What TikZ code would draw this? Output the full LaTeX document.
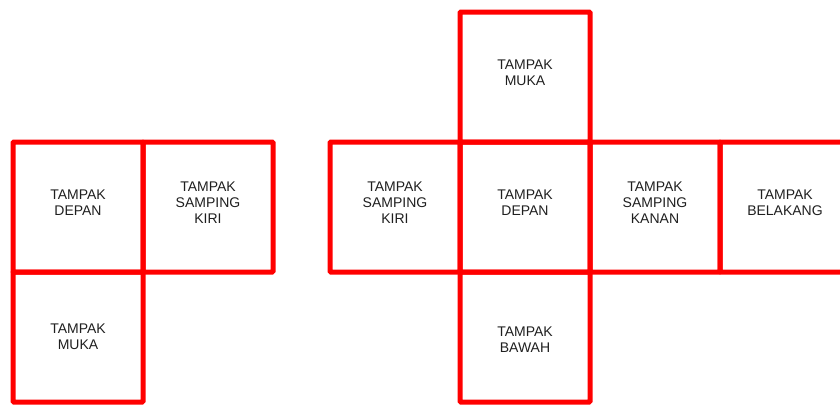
\documentclass[tikz,border=0pt]{standalone}
\usepackage{fontspec}
\setmainfont{Liberation Sans}
\usetikzlibrary{positioning}
\definecolor{netred}{RGB}{255,0,0}
\tikzset{
  face/.style={draw=netred, line width=5pt, minimum size=130pt, inner sep=0pt, outer sep=0pt, rounded corners=1pt},
  facetext/.style={align=center, font=\fontsize{14}{16}\selectfont, text=black!88, inner sep=0pt, yshift=4.5pt}
}

\begin{document}
\begin{tikzpicture}[x=1pt, y=-1pt, node distance=0pt]
  \useasboundingbox (0,0) rectangle (840,405);

  % left net
  \node[face] (ldepan) at (78,207) {};
  \node[face, right=of ldepan] (lkiri) {};
  \node[face, below=of ldepan] (lmuka) {};

  % right net
  \node[face] (rdepan) at (525,207) {};
  \node[face, above=of rdepan] (rmuka) {};
  \node[face, below=of rdepan] (rbawah) {};
  \node[face, left=of rdepan] (rkiri) {};
  \node[face, right=of rdepan] (rkanan) {};
  \node[face, right=of rkanan] (rbelakang) {};

  % labels
  \node[facetext] (ldepantxt) at (ldepan) {TAMPAK\\DEPAN};
  \node[facetext] (lkiritxt) at (lkiri) {TAMPAK\\SAMPING\\KIRI};
  \node[facetext, yshift=-4.5pt] (lmukatxt) at (lmuka) {TAMPAK\\MUKA};
  \node[facetext] (rmukatxt) at (rmuka) {TAMPAK\\MUKA};
  \node[facetext] (rkiritxt) at (rkiri) {TAMPAK\\SAMPING\\KIRI};
  \node[facetext] (rdepantxt) at (rdepan) {TAMPAK\\DEPAN};
  \node[facetext] (rkanantxt) at (rkanan) {TAMPAK\\SAMPING\\KANAN};
  \node[facetext] (rbelakangtxt) at (rbelakang) {TAMPAK\\BELAKANG};
  \node[facetext, yshift=-7pt] (rbawahtxt) at (rbawah) {TAMPAK\\BAWAH};
\end{tikzpicture}
\end{document}
